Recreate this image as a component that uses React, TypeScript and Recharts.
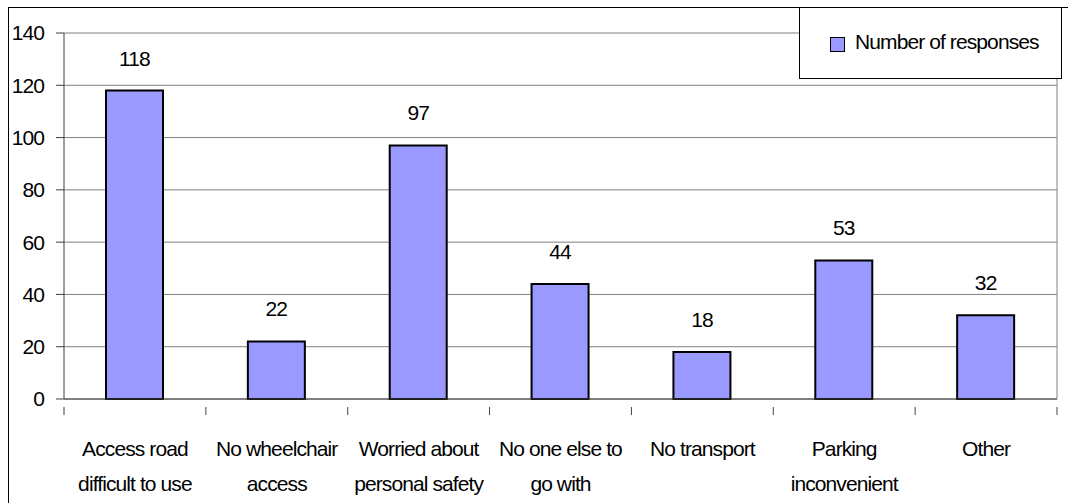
import React from "react";
import { BarChart, Bar, XAxis, YAxis, CartesianGrid, LabelList } from "recharts";

const categories = [
  "Access road difficult to use",
  "No wheelchair access",
  "Worried about personal safety",
  "No one else to go with",
  "No transport",
  "Parking inconvenient",
  "Other",
];
const labelLines = [
  ["Access road", "difficult to use"],
  ["No wheelchair", "access"],
  ["Worried about", "personal safety"],
  ["No one else to", "go with"],
  ["No transport"],
  ["Parking", "inconvenient"],
  ["Other"],
];
const responses = [118, 22, 97, 44, 18, 53, 32];
const yTicks = [0, 20, 40, 60, 80, 100, 120, 140];

const data = categories.map((name, i) => ({ name, value: responses[i], idx: i }));

const FONT = "'Liberation Sans', Arial, sans-serif";
const TXT = { fontFamily: FONT, fontSize: 21, fill: "#000", letterSpacing: -0.9 };

function CatTick(props: any) {
  const { x, y, payload } = props;
  const half = payload?.offset ?? 71;
  const lines = labelLines[payload.index] ?? [String(payload.value)];
  const last = payload.index === categories.length - 1;
  return (
    <g>
      <line x1={x - half} x2={x - half} y1={y} y2={y + 8} stroke="#404040" />
      {last && <line x1={x + half} x2={x + half} y1={y} y2={y + 8} stroke="#404040" />}
      <text x={x} y={y + 49} textAnchor="middle" style={TXT}>
        {lines.map((l, i) => (
          <tspan key={i} x={x} dy={i === 0 ? 0 : 35}>
            {l}
          </tspan>
        ))}
      </text>
    </g>
  );
}

export default function App() {
  return (
    <div style={{ position: "absolute", left: 0, top: 0, width: 1068, height: 503, overflow: "hidden", background: "#fff" }}>
      <div
        style={{
          position: "absolute",
          left: 8,
          top: 7,
          width: 1100,
          height: 600,
          borderLeft: "1px solid #000",
          borderTop: "1px solid #000",
        }}
      />
      <BarChart
        width={1068}
        height={503}
        data={data}
        margin={{ top: 33, right: 10, left: 0, bottom: 0 }}
        style={{ position: "absolute", left: 0, top: 0 }}
      >
        <CartesianGrid vertical={false} stroke="#808080" />
        <XAxis
          dataKey="name"
          height={104}
          interval={0}
          tickLine={false}
          axisLine={{ stroke: "#404040" }}
          tick={<CatTick />}
        />
        <YAxis
          domain={[0, 140]}
          ticks={yTicks}
          width={64}
          interval={0}
          tickSize={8}
          tickMargin={12}
          axisLine={{ stroke: "#404040" }}
          tickLine={{ stroke: "#404040" }}
          tick={TXT}
        />
        <YAxis
          yAxisId="frame"
          orientation="right"
          width={1}
          domain={[0, 140]}
          tick={false}
          tickLine={false}
          axisLine={{ stroke: "#808080" }}
        />
        <Bar dataKey="value" fill="#9999FF" stroke="#000" strokeWidth={2} barSize={57} isAnimationActive={false}>
          <LabelList dataKey="value" position="top" offset={25} style={TXT} />
        </Bar>
      </BarChart>
      <div
        style={{
          position: "absolute",
          left: 799,
          top: 7,
          width: 263,
          height: 72,
          border: "1px solid #000",
          background: "#fff",
          boxSizing: "border-box",
        }}
      >
        <div
          style={{
            position: "absolute",
            left: 30,
            top: 29,
            width: 13,
            height: 13,
            background: "#9999FF",
            border: "1px solid #000",
          }}
        />
        <div
          style={{
            position: "absolute",
            left: 55,
            top: 22,
            fontFamily: FONT,
            fontSize: 21,
            letterSpacing: -0.9,
            lineHeight: "24px",
            whiteSpace: "nowrap",
          }}
        >
          Number of responses
        </div>
      </div>
    </div>
  );
}
